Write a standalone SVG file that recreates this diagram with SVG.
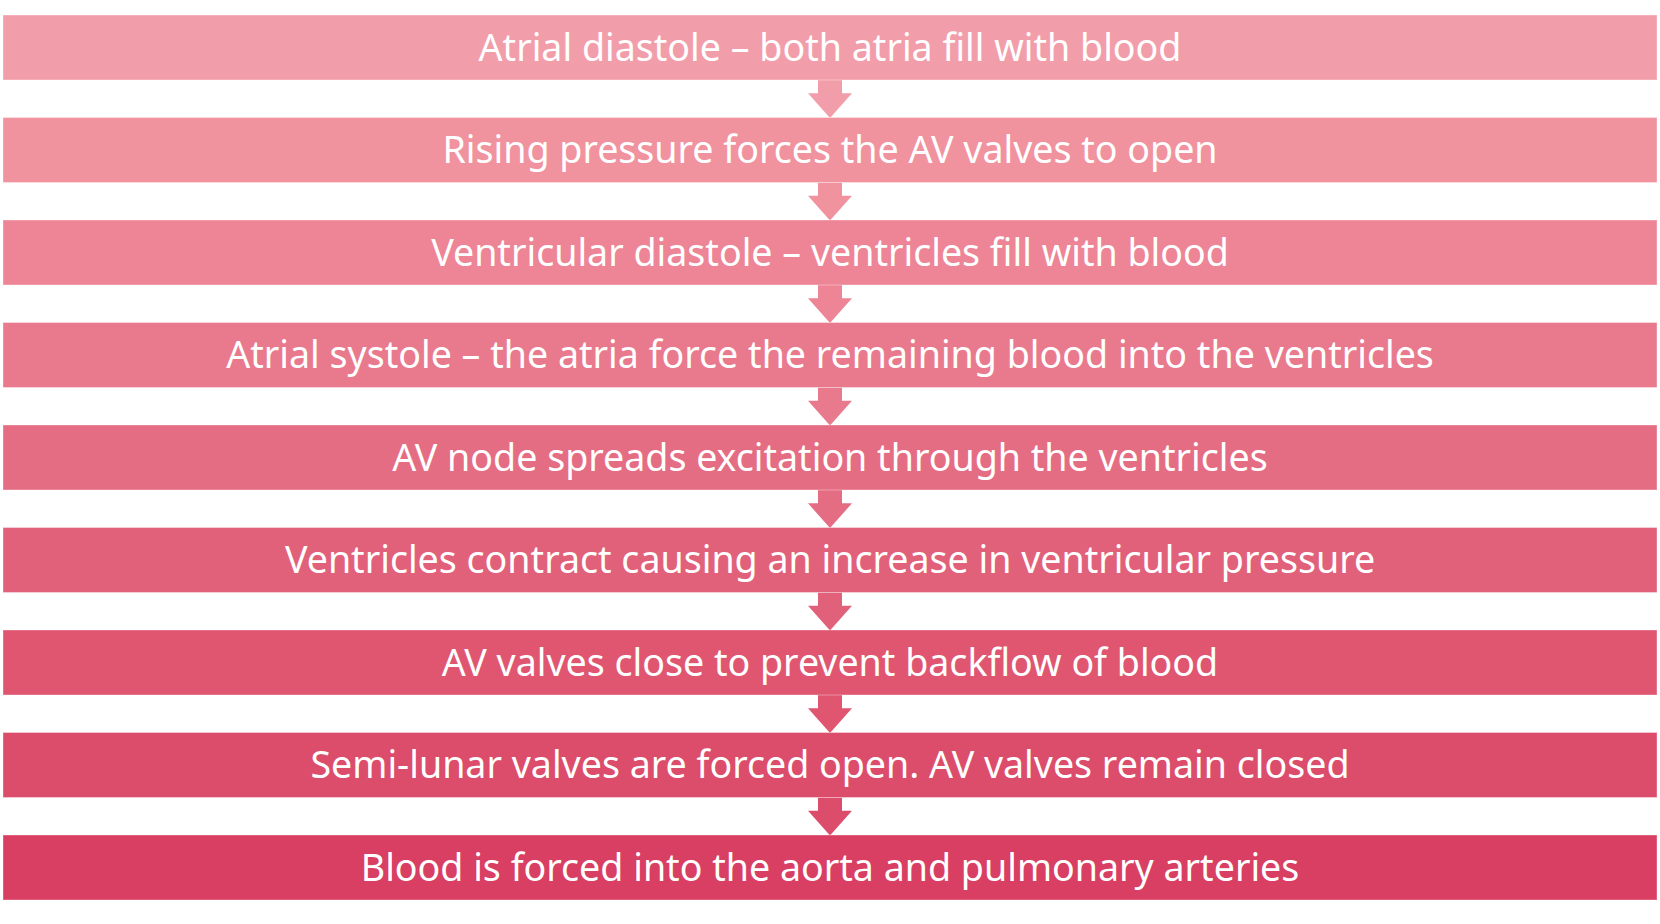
<svg xmlns="http://www.w3.org/2000/svg" width="1660" height="924" viewBox="0 0 1660 924">
<style>
.box{stroke:#ffffff;stroke-opacity:0.35;stroke-width:1}
.lbl{font-family:"Noto Sans","DejaVu Sans",sans-serif;font-size:37.6px;fill:#ffffff;text-anchor:middle}
</style>
<rect width="1660" height="924" fill="#ffffff"/>
<g id="connectors">
<path d="M818 80 V93.3 H808 L830 118 L852 93.3 H842 V80 Z" fill="#F29EAA"/>
<path d="M818 182.5 V195.8 H808 L830 220.5 L852 195.8 H842 V182.5 Z" fill="#F0939F"/>
<path d="M818 285 V298.3 H808 L830 323 L852 298.3 H842 V285 Z" fill="#ED8596"/>
<path d="M818 387.5 V400.8 H808 L830 425.5 L852 400.8 H842 V387.5 Z" fill="#E97A8D"/>
<path d="M818 490 V503.3 H808 L830 528 L852 503.3 H842 V490 Z" fill="#E56D83"/>
<path d="M818 592.5 V605.8 H808 L830 630.5 L852 605.8 H842 V592.5 Z" fill="#E2617A"/>
<path d="M818 695 V708.3 H808 L830 733 L852 708.3 H842 V695 Z" fill="#E05671"/>
<path d="M818 797.5 V810.8 H808 L830 835.5 L852 810.8 H842 V797.5 Z" fill="#DC4C6B"/>
</g>
<g id="n1"><rect class="box" x="3" y="15" width="1654" height="65" fill="#F29EAA"/><text class="lbl" x="830" y="60.5">Atrial diastole – both atria fill with blood</text></g>
<g id="n2"><rect class="box" x="3" y="117.5" width="1654" height="65" fill="#F0939F"/><text class="lbl" x="830" y="163">Rising pressure forces the AV valves to open</text></g>
<g id="n3"><rect class="box" x="3" y="220" width="1654" height="65" fill="#ED8596"/><text class="lbl" x="830" y="265.5">Ventricular diastole – ventricles fill with blood</text></g>
<g id="n4"><rect class="box" x="3" y="322.5" width="1654" height="65" fill="#E97A8D"/><text class="lbl" x="830" y="368">Atrial systole – the atria force the remaining blood into the ventricles</text></g>
<g id="n5"><rect class="box" x="3" y="425" width="1654" height="65" fill="#E56D83"/><text class="lbl" x="830" y="470.5">AV node spreads excitation through the ventricles</text></g>
<g id="n6"><rect class="box" x="3" y="527.5" width="1654" height="65" fill="#E2617A"/><text class="lbl" x="830" y="573">Ventricles contract causing an increase in ventricular pressure</text></g>
<g id="n7"><rect class="box" x="3" y="630" width="1654" height="65" fill="#E05671"/><text class="lbl" x="830" y="675.5">AV valves close to prevent backflow of blood</text></g>
<g id="n8"><rect class="box" x="3" y="732.5" width="1654" height="65" fill="#DC4C6B"/><text class="lbl" x="830" y="778">Semi-lunar valves are forced open. AV valves remain closed</text></g>
<g id="n9"><rect class="box" x="3" y="835" width="1654" height="65" fill="#D83F62"/><text class="lbl" x="830" y="880.5">Blood is forced into the aorta and pulmonary arteries</text></g>
</svg>
